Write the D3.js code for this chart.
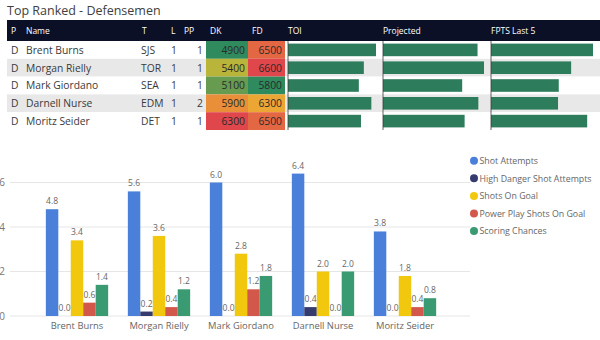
<!DOCTYPE html>
<html>
<head>
<meta charset="utf-8">
<script src="https://cdn.jsdelivr.net/npm/d3@7"></script>
<style>
  body { margin: 0; background: #fff; }
  svg { display: block; font-family: "Segoe UI", "Open Sans", sans-serif; }
</style>
</head>
<body>
<div id="board"></div>
<script>
// table data
const players = ["Brent Burns", "Morgan Rielly", "Mark Giordano", "Darnell Nurse", "Moritz Seider"];
const positions = ["D", "D", "D", "D", "D"];
const teams = ["SJS", "TOR", "SEA", "EDM", "DET"];
const lines = [1, 1, 1, 1, 1];
const ppUnits = [1, 1, 1, 2, 1];
const dkSalary = [4900, 5400, 5100, 5900, 6300];
const fdSalary = [6500, 6600, 5800, 6300, 6500];
const toi = [24.6, 21.2, 19.8, 23.3, 20.4];
const projected = [11.7, 12.5, 9.8, 11.8, 10.1];
const fptsLast5 = [14.0, 11.0, 9.3, 9.2, 13.2];

// chart data
const seriesNames = ["Shot Attempts", "High Danger Shot Attempts", "Shots On Goal", "Power Play Shots On Goal", "Scoring Chances"];
const shotAttempts = [4.8, 5.6, 6.0, 6.4, 3.8];
const highDanger = [0.0, 0.2, 0.0, 0.4, 0.0];
const shotsOnGoal = [3.4, 3.6, 2.8, 2.0, 1.8];
const ppShotsOnGoal = [0.6, 0.4, 1.2, 0.0, 0.4];
const scoringChances = [1.4, 1.2, 1.8, 2.0, 0.8];
const yTicks = [0, 2, 4, 6];

const seriesColors = ["#4a80da", "#363b6d", "#f2c80f", "#d2584c", "#3a9b73"];
const seriesValues = [shotAttempts, highDanger, shotsOnGoal, ppShotsOnGoal, scoringChances];

const W = 600, H = 340;
const svg = d3.select("#board").append("svg")
  .attr("width", W).attr("height", H);

/********** table **********/
svg.append("text")
  .attr("x", 7).attr("y", 15)
  .attr("font-size", 12.5)
  .style("fill", "#404040")
  .text("Top Ranked - Defensemen");

const tableLeft = 7, headTop = 20, headH = 21, rowH = 17.8;
const rowTop = i => headTop + headH + i * rowH;

svg.append("rect")
  .attr("x", tableLeft).attr("y", headTop)
  .attr("width", W - tableLeft).attr("height", headH)
  .style("fill", "#0b1026");

const cols = [
  { head: "P", x: 11 },
  { head: "Name", x: 26 },
  { head: "T", x: 142 },
  { head: "L", x: 171 },
  { head: "PP", x: 184 },
  { head: "DK", x: 210 },
  { head: "FD", x: 252 },
  { head: "TOI", x: 288 },
  { head: "Projected", x: 383 },
  { head: "FPTS Last 5", x: 491 }
];

svg.selectAll(".head")
  .data(cols)
  .enter().append("text")
  .attr("class", "head")
  .attr("x", d => d.x).attr("y", headTop + 14)
  .attr("font-size", 8.5)
  .attr("font-weight", 500)
  .style("fill", "#fff")
  .text(d => d.head);

// zebra rows
svg.selectAll(".band")
  .data(players)
  .enter().append("rect")
  .attr("class", "band")
  .attr("x", tableLeft).attr("y", (d, i) => rowTop(i))
  .attr("width", W - tableLeft).attr("height", rowH)
  .style("fill", (d, i) => i % 2 ? "#e8e8e8" : "#fff");

// green-yellow-red salary scales
const heat = (vals) => {
  const lo = d3.min(vals), hi = d3.max(vals);
  return d3.scaleLinear()
    .domain([lo, (lo + hi) / 2, hi])
    .range(["#2f8a5e", "#f0c52c", "#e0474c"])
    .interpolate(d3.interpolateRgb);
};
const dkColor = heat(dkSalary), fdColor = heat(fdSalary);

const cellRow = svg.selectAll(".prow")
  .data(players)
  .enter().append("g")
  .attr("class", "prow")
  .attr("transform", (d, i) => `translate(0, ${rowTop(i)})`);

cellRow.append("rect")
  .attr("x", 206).attr("y", 0).attr("width", 42).attr("height", rowH)
  .style("fill", (d, i) => dkColor(dkSalary[i]));
cellRow.append("rect")
  .attr("x", 248).attr("y", 0).attr("width", 37).attr("height", rowH)
  .style("fill", (d, i) => fdColor(fdSalary[i]));

const txt = (sel, x, anchor, fn) => sel.append("text")
  .attr("x", x).attr("y", rowH / 2 + 4)
  .attr("font-size", 10.3)
  .attr("text-anchor", anchor)
  .style("fill", "#3a3a3a")
  .text(fn);

txt(cellRow, 11, "start", (d, i) => positions[i]);
txt(cellRow, 26, "start", d => d);
txt(cellRow, 141, "start", (d, i) => teams[i]);
txt(cellRow, 171, "start", (d, i) => lines[i]);
txt(cellRow, 203, "end", (d, i) => ppUnits[i]);
txt(cellRow, 245, "end", (d, i) => dkSalary[i]).style("fill", "#2a2a2a");
txt(cellRow, 282, "end", (d, i) => fdSalary[i]).style("fill", "#2a2a2a");

// data bar columns
const barCols = [
  { vals: toi, x: 288, w: 95 },
  { vals: projected, x: 383, w: 108 },
  { vals: fptsLast5, x: 491, w: 109 }
];
barCols.forEach(c => {
  const s = d3.scaleLinear().domain([0, d3.max(c.vals)]).range([0, c.w - 7]);
  cellRow.append("rect")
    .attr("x", c.x).attr("y", 2.6)
    .attr("width", (d, i) => s(c.vals[i]))
    .attr("height", 12.6)
    .style("fill", "#2d7c5b");
  svg.append("line")
    .attr("x1", c.x).attr("x2", c.x)
    .attr("y1", rowTop(0)).attr("y2", rowTop(players.length))
    .style("stroke", "#3b3b3b").style("stroke-width", 0.8);
});

/********** clustered column chart **********/
const y = d3.scaleLinear().domain([0, 7]).range([316, 160.25]);
const x0 = d3.scaleBand().domain(players).range([36, 446]).paddingInner(0.24).paddingOuter(0.12);
const x1 = d3.scaleBand().domain(seriesNames).range([0, x0.bandwidth()]);

svg.selectAll(".grid")
  .data(yTicks)
  .enter().append("line")
  .attr("class", "grid")
  .attr("x1", 10).attr("x2", 470)
  .attr("y1", d => y(d)).attr("y2", d => y(d))
  .style("stroke", "#e6e6e6");

svg.selectAll(".ytick")
  .data(yTicks)
  .enter().append("text")
  .attr("class", "ytick")
  .attr("x", 5).attr("y", d => y(d) + 3.5)
  .attr("text-anchor", "end")
  .attr("font-size", 10)
  .style("fill", "#777")
  .text(d => d);

const group = svg.selectAll(".grp")
  .data(players)
  .enter().append("g")
  .attr("class", "grp")
  .attr("transform", d => `translate(${x0(d)}, 0)`);

const cells = (d, pi) => seriesNames.map((s, si) => ({ s, si, v: seriesValues[si][pi] }));

group.selectAll("rect")
  .data(cells)
  .enter().append("rect")
  .attr("x", d => x1(d.s))
  .attr("y", d => y(d.v))
  .attr("width", x1.bandwidth())
  .attr("height", d => y(0) - y(d.v))
  .style("fill", d => seriesColors[d.si]);

group.selectAll(".val")
  .data(cells)
  .enter().append("text")
  .attr("class", "val")
  .attr("x", d => x1(d.s) + x1.bandwidth() / 2)
  .attr("y", d => y(d.v) - 5)
  .attr("text-anchor", "middle")
  .attr("font-size", 8.5)
  .style("fill", "#666")
  .text(d => d.v.toFixed(1));

svg.selectAll(".xlab")
  .data(players)
  .enter().append("text")
  .attr("class", "xlab")
  .attr("x", d => x0(d) + x0.bandwidth() / 2)
  .attr("y", 329)
  .attr("text-anchor", "middle")
  .attr("font-size", 9.4)
  .style("fill", "#666")
  .text(d => d);

// legend
const legend = svg.selectAll(".leg")
  .data(seriesNames)
  .enter().append("g")
  .attr("class", "leg")
  .attr("transform", (d, i) => `translate(474, ${160.7 + i * 17.6})`);
legend.append("circle")
  .attr("r", 4)
  .style("fill", (d, i) => seriesColors[i]);
legend.append("text")
  .attr("x", 5.5).attr("y", 3.3)
  .attr("font-size", 8.8)
  .style("fill", "#666")
  .text(d => d);
</script>
</body>
</html>
